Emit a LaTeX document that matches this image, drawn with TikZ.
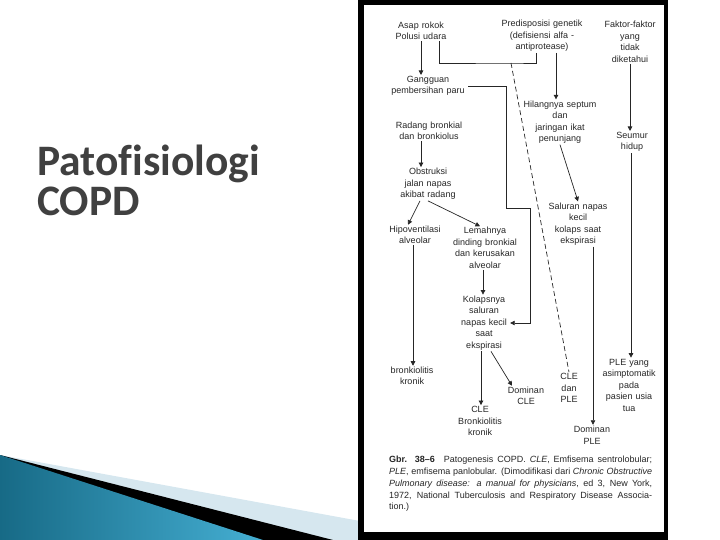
\documentclass[tikz,border=0pt]{standalone}
\usepackage{fontspec}
\usepackage{tikz}
\usetikzlibrary{arrows.meta,positioning,calc}
\setmainfont{Liberation Sans}
\newfontfamily\titlefont[Ligatures=NoCommon]{Carlito}
\definecolor{titlegray}{HTML}{404040}
\definecolor{inkgray}{HTML}{262626}
\definecolor{bandteal}{HTML}{176A86}
\definecolor{bandlight}{HTML}{45AFD3}
\definecolor{bandpale}{HTML}{D6E7EF}

\begin{document}
\begin{tikzpicture}[x=1pt,y=-1pt,
    every node/.style={font=\fontsize{9}{11.5}\selectfont,text=inkgray},
    box/.style={align=center,text width=#1,inner sep=1pt},
    box/.default=90pt,
    arr/.style={-{Triangle[length=4.5pt,width=4.5pt]},line width=0.7pt,inkgray},
    link/.style={line width=0.7pt,inkgray},
    title/.style={font=\titlefont\bfseries\fontsize{43.5}{40}\selectfont,text=titlegray,align=left,inner sep=0pt,anchor=north west},
    caption/.style={font=\fontsize{9}{11.8}\selectfont,text width=263pt,align=justify,inner sep=0pt,anchor=north west}
]
\useasboundingbox (0,0) rectangle (720,540);

% slide band
\fill[bandpale] (0,455) -- (360,521) -- (360,540) -- (0,540) -- cycle;
\fill[black] (0,455) -- (333,540) -- (0,540) -- cycle;
\shade[left color=bandteal,right color=bandlight] (0,455) -- (263,540) -- (0,540) -- cycle;

% scanned figure frame
\fill[black] (358,-5) rectangle (668,545);
\fill[white] (364,5) rectangle (664,532);

\node[title] (title) at (37,145) {Patofisiologi\\COPD};

\node[box] (asap) at (421,31) {Asap rokok\\Polusi udara};
\node[box] (predisp) at (542,36) {Predisposisi genetik\\(defisiensi alfa -\\antiprotease)};
\node[box] (faktor) at (630,42) {Faktor-faktor\\yang\\tidak\\diketahui};
\node[box=78pt] (gangguan) at (428,86) {Gangguan\\pembersihan paru};
\node[box] (radang) at (429,131) {Radang bronkial\\dan bronkiolus};
\node[box] (hilang) at (560,122) {Hilangnya septum\\dan\\jaringan ikat\\penunjang};
\node[box] (seumur) at (632,142) {Seumur\\hidup};
\node[box] (obstruksi) at (428,184) {Obstruksi\\jalan napas\\akibat radang};
\node[box] (hipo) at (415,235) {Hipoventilasi\\alveolar};
\node[box] (lemah) at (485,248) {Lemahnya\\dinding bronkial\\dan kerusakan\\alveolar};
\node[box] (saluran) at (578,224) {Saluran napas\\kecil\\kolaps saat\\ekspirasi};
\node[box=50pt] (kolaps) at (484,323) {Kolapsnya\\saluran\\napas kecil\\saat\\ekspirasi};
\node[box] (bronk) at (412,376) {bronkiolitis\\kronik};
\node[box] (domcle) at (526,396) {Dominan\\CLE};
\node[box] (clebronk) at (480,421) {CLE\\Bronkiolitis\\kronik};
\node[box] (cledan) at (569,388) {CLE\\dan\\PLE};
\node[box] (pleyang) at (629,385) {PLE yang\\asimptomatik\\pada\\pasien usia\\tua};
\node[box] (domple) at (592,435) {Dominan\\PLE};

\node[caption] (caption) at (389,456) {\textbf{Gbr. 38–6}\quad Patogenesis COPD. \textit{CLE}, Emfisema sentrolobular;\linebreak
\textit{PLE}, emfisema panlobular. (Dimodifikasi dari \textit{Chronic Obstructive}\linebreak
\textit{Pulmonary disease: a manual for physicians}, ed 3, New York,\linebreak
1972, National Tuberculosis and Respiratory Disease Associa-\linebreak
tion.)};

\coordinate (join) at (511,63);
\coordinate (bendA) at (506,208);
\coordinate (bendB) at (530,208);

\draw[arr] (asap.south) -- (asap.south |- gangguan.north);
\draw[link] ([xshift=18pt]asap.south) |- (join) -| ([xshift=-6pt]predisp.south);
\draw[link,dash pattern=on 5pt off 3pt] (join) -- (cledan.north);
\draw[arr] ([xshift=14pt]predisp.south) -- ([xshift=14pt]predisp.south |- hilang.north);
\draw[arr] (gangguan.east) -| (bendA) -- (bendB) |- (kolaps.east);
\draw[arr] ([xshift=-8pt]radang.south) -- ([xshift=-8pt]radang.south |- obstruksi.north);
\draw[arr] ([xshift=-8pt]obstruksi.south) -- ([xshift=-7pt]hipo.north);
\draw[arr] (obstruksi.south) -- ([xshift=-5pt]lemah.north);
\draw[arr] (hilang.south) -- (saluran.north);
\draw[arr] (faktor.south) -- (faktor.south |- seumur.north);
\draw[arr] ([xshift=-1pt]seumur.south) -- ([xshift=-1pt]seumur.south |- pleyang.north);
\draw[arr] ([xshift=15pt]saluran.south) -- ([xshift=15pt]saluran.south |- domple.north);
\draw[arr] ([xshift=-2pt]hipo.south) -- ([xshift=-2pt]hipo.south |- bronk.north);
\draw[arr] ([xshift=-2pt]lemah.south) -- ([xshift=-2pt]lemah.south |- kolaps.north);
\draw[arr] ([xshift=-3pt]kolaps.south) -- ([xshift=-3pt]kolaps.south |- clebronk.north);
\draw[arr] ([xshift=7pt]kolaps.south) -- ([xshift=-14pt]domcle.north);
\end{tikzpicture}
\end{document}
